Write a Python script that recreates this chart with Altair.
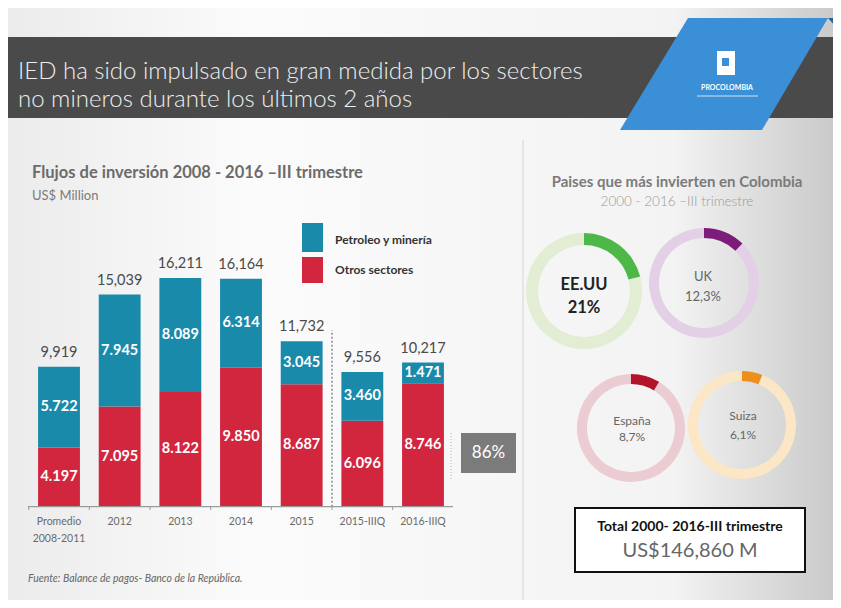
import math
import altair as alt
import pandas as pd

# ---------------- data ----------------
categories = ["Promedio\n2008-2011", "2012", "2013", "2014", "2015", "2015-IIIQ", "2016-IIIQ"]
petroleo = [5722, 7945, 8089, 6314, 3045, 3460, 1471]
otros = [4197, 7095, 8122, 9850, 8687, 6096, 8746]
totales = [9919, 15039, 16211, 16164, 11732, 9556, 10217]
sectores = ["Otros sectores", "Petroleo y minería"]

paises = ["EE.UU", "UK", "España", "Suiza"]
paises_pct = [21.0, 12.3, 8.7, 6.1]
paises_lbl = ["21%", "12,3%", "8,7%", "6,1%"]
total_paises = "US$146,860 M"

# ---------------- styles / layout ----------------
BLUE = "#1a8aab"
RED = "#d2263f"
SANS = "Lato, 'Open Sans', sans-serif"


def px(v):
    """page coordinate -> chart coordinate (page has an 8px margin)"""
    return v - 8


one = pd.DataFrame({"a": [0]})


def txt(text, x, y, size, color, weight="normal", align="left", font=SANS,
        style="normal", baseline="middle"):
    return alt.Chart(one).mark_text(
        text=text, fontSize=size, color=color, fontWeight=weight, align=align,
        font=font, fontStyle=style, baseline=baseline,
    ).encode(x=alt.value(px(x)), y=alt.value(px(y)))


def rect(x0, x1, y0, y1, fill, stroke=None, sw=0, opacity=1):
    kw = dict(fill=fill, opacity=opacity)
    if stroke:
        kw.update(stroke=stroke, strokeWidth=sw)
    return alt.Chart(one).mark_rect(**kw).encode(
        x=alt.value(px(x0)), x2=alt.value(px(x1)),
        y=alt.value(px(y0)), y2=alt.value(px(y1)))


layers = []

# background
bg_grad = alt.LinearGradient(
    gradient="linear", x1=0, x2=1, y1=0, y2=0,
    stops=[alt.GradientStop(offset=0, color="#ebebeb"),
           alt.GradientStop(offset=0.3, color="#fbfbfb"),
           alt.GradientStop(offset=0.8, color="#f3f3f3"),
           alt.GradientStop(offset=1, color="#c8c8c8")])
layers.append(rect(0, 841, 0, 608, bg_grad))

# header band
layers.append(rect(0, 841, 37, 118, "#4a4a4a"))
layers.append(txt("IED ha sido impulsado en gran medida por los sectores", 18, 72, 24,
                  "#eeeeee", weight=300))
layers.append(txt("no mineros durante los últimos 2 años", 18, 100, 24, "#eeeeee", weight=300))

# blue logo ribbon (custom path symbol, scale = sqrt(size)/2 = 100)
layers.append(alt.Chart(one).mark_point(
    shape="M-0.36,-0.56 L1.04,-0.56 L0.38,0.56 L-1.04,0.56 Z",
    size=40000, filled=True, fill="#3b8fd6", opacity=1, strokeWidth=0,
).encode(x=alt.value(px(724)), y=alt.value(px(74))))
layers.append(alt.Chart(one).mark_point(
    shape="M0,0 L0.14,0 L0.14,0.16 Z",
    size=40000, filled=True, fill="#25639a", opacity=1, strokeWidth=0,
).encode(x=alt.value(px(828)), y=alt.value(px(18))))
layers.append(rect(717, 735, 51, 75, "#ffffff"))
layers.append(rect(722, 729, 58, 66, "#3b8fd6"))
layers.append(txt("PROCOLOMBIA", 727, 88, 7, "#ffffff", weight="bold", align="center"))
layers.append(alt.Chart(one).mark_rule(color="#cfe3f5", strokeWidth=1).encode(
    x=alt.value(px(697)), x2=alt.value(px(758)), y=alt.value(px(96))))

# ---------------- left panel: stacked bars ----------------
layers.append(txt("Flujos de inversión  2008 - 2016 –III trimestre", 32, 173, 16.5, "#6b6b6b",
                  weight="bold"))
layers.append(txt("US$ Million", 32, 196, 13, "#7a7a7a"))

# legend
layers.append(rect(302, 323, 223, 252, BLUE))
layers.append(rect(302, 323, 257, 283, RED))
layers.append(txt(sectores[1], 335, 240, 12, "#333333", weight="bold"))
layers.append(txt(sectores[0], 335, 270, 12, "#333333", weight="bold"))

rows = []
for i, c in enumerate(categories):
    rows.append(dict(cat=c, sector=sectores[0], value=otros[i], ord=0))
    rows.append(dict(cat=c, sector=sectores[1], value=petroleo[i], ord=1))
bars_df = pd.DataFrame(rows)
bars_df["label"] = bars_df["value"].map(lambda v: f"{v:,}".replace(",", "."))

tot_df = pd.DataFrame({"cat": categories, "total": totales,
                       "label": [f"{v:,}" for v in totales], "zero": 0})

xs = alt.Scale(domain=categories, range=[px(28.67), px(453.33)],
               paddingInner=0.31, paddingOuter=0.155)
ys = alt.Scale(domain=[0, 16211], range=[px(506.7), px(278)], nice=False, zero=True)

X = alt.X("cat:N", scale=xs, axis=None, sort=categories)

stacked = alt.Chart(bars_df).transform_stack(
    stack="value", groupby=["cat"], as_=["v0", "v1"], sort=[alt.SortField("ord")]
)

bars = stacked.mark_bar().encode(
    x=X,
    y=alt.Y("v0:Q", scale=ys, axis=None),
    y2="v1:Q",
    color=alt.Color("sector:N", scale=alt.Scale(domain=sectores, range=[RED, BLUE]),
                    legend=None),
)
seg_labels = stacked.transform_calculate(mid="(datum.v0 + datum.v1) / 2").mark_text(
    color="#ffffff", fontSize=14.5, fontWeight="bold", font=SANS
).encode(x=X, y=alt.Y("mid:Q", scale=ys, axis=None), text="label:N")

tot_labels = alt.Chart(tot_df).mark_text(
    color="#4a4a4a", fontSize=14.5, font=SANS, dy=-14
).encode(x=X, y=alt.Y("total:Q", scale=ys, axis=None), text="label:N")

x_labels = alt.Chart(tot_df).mark_text(
    color="#6a6a6a", fontSize=10.5, font=SANS, baseline="top", dy=10,
    lineBreak="\n", lineHeight=17
).encode(x=X, y=alt.Y("zero:Q", scale=ys, axis=None), text="cat:N")

baseline = alt.Chart(one.assign(zero=0)).mark_rule(color="#9a9a9a", strokeWidth=1.2).encode(
    x=alt.value(px(28)), x2=alt.value(px(453)), y=alt.Y("zero:Q", scale=ys, axis=None))

ticks = alt.Chart(tot_df).mark_rule(color="#9a9a9a", xOffset=-9.4).encode(
    x=alt.X("cat:N", scale=xs, axis=None, sort=categories, bandPosition=0),
    y=alt.Y("zero:Q", scale=ys, axis=None), y2=alt.value(px(510)))

sep_df = pd.DataFrame({"cat": ["2015-IIIQ"], "y0": [0], "y1": [12500]})
sep = alt.Chart(sep_df).mark_rule(color="#8a8a8a", strokeDash=[2, 2], strokeWidth=1.5,
                                  xOffset=-9.4).encode(
    x=alt.X("cat:N", scale=xs, axis=None, sort=categories, bandPosition=0),
    y=alt.Y("y0:Q", scale=ys, axis=None), y2="y1:Q")

layers += [bars, seg_labels, tot_labels, baseline, ticks, x_labels, sep]

# 86% annotation
share = f"{round(otros[-1] / totales[-1] * 100)}%"
layers.append(alt.Chart(one).mark_rule(color="#b0b0b0", strokeDash=[1, 2]).encode(
    x=alt.value(px(451)), y=alt.value(px(433)), y2=alt.value(px(480))))
layers.append(rect(461, 516, 433, 473, "#7b7b7b"))
layers.append(txt(share, 488.5, 453, 17, "#ffffff", align="center"))

layers.append(txt("Fuente: Balance de pagos- Banco de la República.", 28, 579, 10.5, "#666666",
                  style="italic"))

# ---------------- right panel: donuts ----------------
layers.append(alt.Chart(one).mark_rule(color="#d5d5d5", strokeWidth=1).encode(
    x=alt.value(px(523)), y=alt.value(px(140)), y2=alt.value(px(600))))
layers.append(txt("Paises que más invierten en Colombia", 677, 182, 15, "#7a7a7a",
                  weight="bold", align="center"))
layers.append(txt("2000 - 2016 –III trimestre", 677, 202, 13.5, "#9a9a9a", align="center",
                  weight=300))

donut_layout = [
    # cx, cy, outer radius, thickness, fg, bg
    (584, 291, 58, 12, "#4db848", "#e2edd3"),
    (704, 283, 55, 10, "#7d1c7b", "#e3cfe6"),
    (631, 428, 54, 10, "#b2122a", "#ecccd3"),
    (742, 425, 54, 10, "#ec8f1c", "#fbe7c6"),
]
theta_scale = alt.Scale(domain=[0, 100], range=[0, 2 * math.pi])
for i, name in enumerate(paises):
    cx, cy, r, th, fg, bgc = donut_layout[i]
    pct = paises_pct[i]
    ddf = pd.DataFrame({"t0": [0, pct], "t1": [pct, 100], "part": ["fg", "bg"]})
    for part, col in (("bg", bgc), ("fg", fg)):
        layers.append(alt.Chart(ddf).transform_filter(f"datum.part == '{part}'").mark_arc(
            outerRadius=r, innerRadius=r - th, color=col
        ).encode(theta=alt.Theta("t0:Q", scale=theta_scale), theta2="t1:Q",
                 x=alt.value(px(cx)), y=alt.value(px(cy))))

layers.append(txt(paises[0], 584, 285, 16.5, "#222222", weight="bold", align="center"))
layers.append(txt(paises_lbl[0], 584, 308, 16.5, "#222222", weight="bold", align="center"))
layers.append(txt(paises[1], 703, 277, 13, "#666666", align="center"))
layers.append(txt(paises_lbl[1], 703, 297, 13, "#666666", align="center"))
layers.append(txt(paises[2], 632, 421, 12, "#666666", align="center"))
layers.append(txt(paises_lbl[2], 632, 437, 12, "#666666", align="center"))
layers.append(txt(paises[3], 743, 416, 12, "#666666", align="center"))
layers.append(txt(paises_lbl[3], 743, 435, 12, "#666666", align="center"))

# total box
layers.append(rect(575, 805, 508, 572, "#ffffff", stroke="#111111", sw=2))
layers.append(txt("Total 2000- 2016-III trimestre", 690, 527, 14, "#111111", weight="bold",
                  align="center"))
layers.append(txt(total_paises, 690, 551, 20, "#666666", align="center"))

chart = alt.layer(*layers).properties(
    width=825, height=592, padding=0,
    autosize=alt.AutoSizeParams(type="none"),
).configure_view(stroke=None)

chart.save("out.html", embed_options={"renderer": "svg", "actions": False})
